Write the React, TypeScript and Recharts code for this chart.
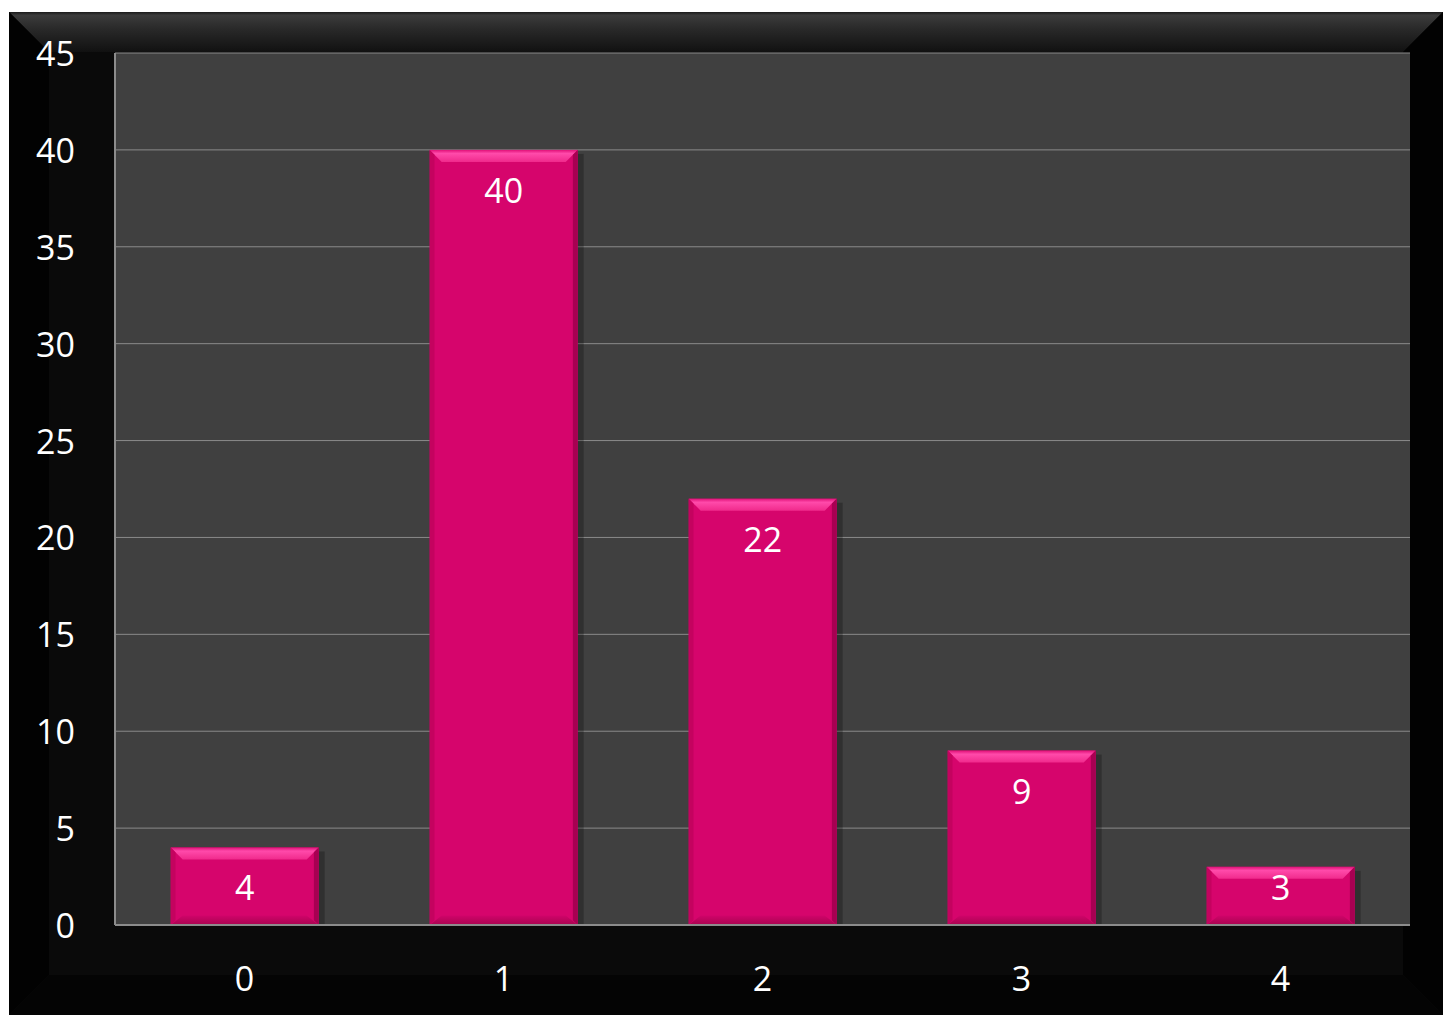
import React from 'react'
import { BarChart, Bar, XAxis, YAxis, CartesianGrid, LabelList } from 'recharts'

const categories = ['0', '1', '2', '3', '4']
const counts = [4, 40, 22, 9, 3]
const yTicks = [0, 5, 10, 15, 20, 25, 30, 35, 40, 45]

const data = categories.map((c, i) => ({ name: c, value: counts[i] }))

const FONT = '"Open Sans", "DejaVu Sans", sans-serif'
const W = 1443
const H = 1015

// beveled bar, geometry supplied by recharts
const BevelBar = (props: any) => {
  const { x, y, width, height } = props
  if (height <= 0) return null
  const b = 12
  return (
    <g>
      <rect x={x + width} y={y + 4} width={6} height={height - 4} fill="#000" opacity={0.25} />
      <rect x={x} y={y} width={width} height={height} fill="#d6056c" />
      <polygon
        points={`${x},${y} ${x + width},${y} ${x + width - b},${y + b} ${x + b},${y + b}`}
        fill="url(#barTop)"
      />
      <polygon
        points={`${x},${y} ${x + b * 0.4},${y + b * 0.4} ${x + b * 0.4},${y + height - b * 0.4} ${x},${y + height}`}
        fill="#c4035f"
      />
      <polygon
        points={`${x + width},${y} ${x + width - b * 0.4},${y + b * 0.4} ${x + width - b * 0.4},${y + height - b * 0.4} ${x + width},${y + height}`}
        fill="#a80052"
      />
      <polygon
        points={`${x},${y + height} ${x + b},${y + height - b * 0.8} ${x + width - b},${y + height - b * 0.8} ${x + width},${y + height}`}
        fill="url(#barBottom)"
      />
    </g>
  )
}

const ValueLabel = (props: any) => {
  const { x, y, width, height, value } = props
  const cy = Math.min(y + 40, y + height - 38)
  return (
    <text x={x + width / 2} y={cy + 13} textAnchor="middle" fill="#fff" fontSize={34} fontFamily={FONT}>
      {value}
    </text>
  )
}

const YTick = (props: any) => {
  const { x, y, payload } = props
  return (
    <text x={x} y={y + 13} textAnchor="end" fill="#fff" fontSize={34} fontFamily={FONT}>
      {payload.value}
    </text>
  )
}

const XTick = (props: any) => {
  const { x, y, payload } = props
  return (
    <text x={x} y={y + 66} textAnchor="middle" fill="#fff" fontSize={34} fontFamily={FONT}>
      {payload.value}
    </text>
  )
}

function Frame() {
  return (
    <svg width={W} height={H} style={{ position: 'absolute', left: 0, top: 0 }}>
      <defs>
        <linearGradient id="frameTop" x1="0" y1="0" x2="0" y2="1">
          <stop offset="0" stopColor="#1a1a1a" />
          <stop offset="0.08" stopColor="#3c3c3c" />
          <stop offset="0.4" stopColor="#2a2a2a" />
          <stop offset="1" stopColor="#111" />
        </linearGradient>
      </defs>
      <rect x={9} y={12} width={W - 9} height={H - 12} fill="#0a0a0a" />
      <polygon points={`9,12 ${W},12 ${W - 40},52 49,52`} fill="url(#frameTop)" />
      <polygon points={`9,12 49,52 49,${H - 40} 9,${H}`} fill="#020202" />
      <polygon points={`${W},12 ${W - 40},52 ${W - 40},${H - 40} ${W},${H}`} fill="#020202" />
      <polygon points={`9,${H} 49,${H - 40} ${W - 40},${H - 40} ${W},${H}`} fill="#040404" />
    </svg>
  )
}

export default function App() {
  return (
    <div style={{ position: 'absolute', left: 0, top: 0, width: W, height: H }}>
      <Frame />
      <div style={{ position: 'absolute', left: 0, top: 0 }}>
        <BarChart
          width={W}
          height={H}
          data={data}
          barCategoryGap="21.5%"
          margin={{ top: 53, right: 33, bottom: 0, left: 35 }}
        >
          <defs>
            <linearGradient id="barTop" x1="0" y1="0" x2="0" y2="1">
              <stop offset="0" stopColor="#e01078" />
              <stop offset="0.3" stopColor="#ff4aaa" />
              <stop offset="1" stopColor="#f02a8c" />
            </linearGradient>
            <linearGradient id="barBottom" x1="0" y1="0" x2="0" y2="1">
              <stop offset="0" stopColor="#d0046a" />
              <stop offset="1" stopColor="#a8044f" />
            </linearGradient>
          </defs>
          <CartesianGrid vertical={false} stroke="#8a8a8a" fill="#404040" />
          <XAxis
            dataKey="name"
            height={90}
            tickSize={0}
            tickMargin={0}
            tickLine={false}
            axisLine={{ stroke: '#8c8c8c', strokeWidth: 2 }}
            tick={<XTick />}
          />
          <YAxis
            width={80}
            domain={[0, 45]}
            ticks={yTicks}
            tickSize={0}
            tickMargin={40}
            tickLine={false}
            axisLine={{ stroke: '#8c8c8c', strokeWidth: 2 }}
            tick={<YTick />}
          />
          <Bar dataKey="value" shape={<BevelBar />} isAnimationActive={false}>
            <LabelList dataKey="value" content={<ValueLabel />} />
          </Bar>
        </BarChart>
      </div>
    </div>
  )
}
